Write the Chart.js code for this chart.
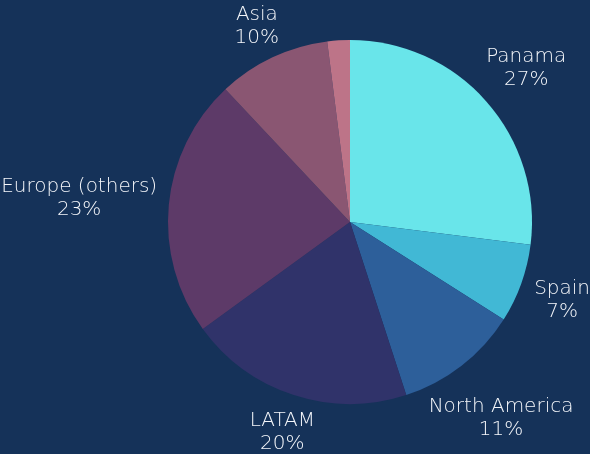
<!DOCTYPE html>
<html>
<head>
<meta charset="utf-8">
<script src="https://cdn.jsdelivr.net/npm/chart.js@4/dist/chart.umd.min.js"></script>
<style>
    html, body { margin: 0; padding: 0; background: #153259; }
    #wrap { width: 590px; height: 454px; position: relative; }
</style>
</head>
<body>
<div id="wrap"><canvas id="regionPie"></canvas></div>
<script>
const regions = ['Panama', 'Spain', 'North America', 'LATAM', 'Europe (others)', 'Asia', 'Other'];
const shares = [27, 7, 11, 20, 23, 10, 2];
const sliceColors = ['#69E5EA', '#41B8D5', '#2D5F9A', '#30336A', '#5D3A68', '#8A5672', '#BD7488'];

const labelFont = '300 20px "DejaVu Sans", "Open Sans", sans-serif';
const labelColor = '#F4F6FA';
const lineHeight = 23;
const capHeight = 14;
const labelGap = 11;

// Draws "name / pct%" outside each slice, nearest box edge at radius + gap
const outerLabels = {
    id: 'outerLabels',
    afterDatasetsDraw(chart) {
        const ctx = chart.ctx;
        const meta = chart.getDatasetMeta(0);
        ctx.save();
        ctx.font = labelFont;
        ctx.fillStyle = labelColor;
        ctx.textAlign = 'center';
        ctx.textBaseline = 'alphabetic';
        meta.data.forEach((arc, i) => {
            if (shares[i] < 3) return;
            const lines = [regions[i], `${shares[i]}%`];
            const w = Math.max(...lines.map(l => ctx.measureText(l).width));
            const h = (lines.length - 1) * lineHeight + capHeight;
            const mid = (arc.startAngle + arc.endAngle) / 2;
            const cos = Math.cos(mid), sin = Math.sin(mid);
            const target = arc.outerRadius + labelGap;
            const boxDist = (t) => {
                const cx = arc.x + cos * t, cy = arc.y + sin * t;
                const nx = Math.max(cx - w / 2, Math.min(arc.x, cx + w / 2));
                const ny = Math.max(cy - h / 2, Math.min(arc.y, cy + h / 2));
                return Math.hypot(nx - arc.x, ny - arc.y);
            };
            let lo = 0, hi = 600;
            for (let k = 0; k < 40; k++) {
                const m = (lo + hi) / 2;
                if (boxDist(m) < target) lo = m; else hi = m;
            }
            const cx = arc.x + cos * lo, cy = arc.y + sin * lo;
            const top = cy - h / 2;
            lines.forEach((l, j) => ctx.fillText(l, cx, top + capHeight + j * lineHeight));
        });
        ctx.restore();
    }
};

new Chart(document.getElementById('regionPie'), {
    type: 'pie',
    data: {
        labels: regions,
        datasets: [{
            data: shares,
            backgroundColor: sliceColors,
            borderWidth: 0
        }]
    },
    options: {
        responsive: true,
        maintainAspectRatio: false,
        animation: false,
        layout: { padding: { top: 40, bottom: 50, left: 168, right: 58 } },
        plugins: {
            legend: { display: false },
            tooltip: { enabled: false }
        }
    },
    plugins: [outerLabels]
});
</script>
</body>
</html>
